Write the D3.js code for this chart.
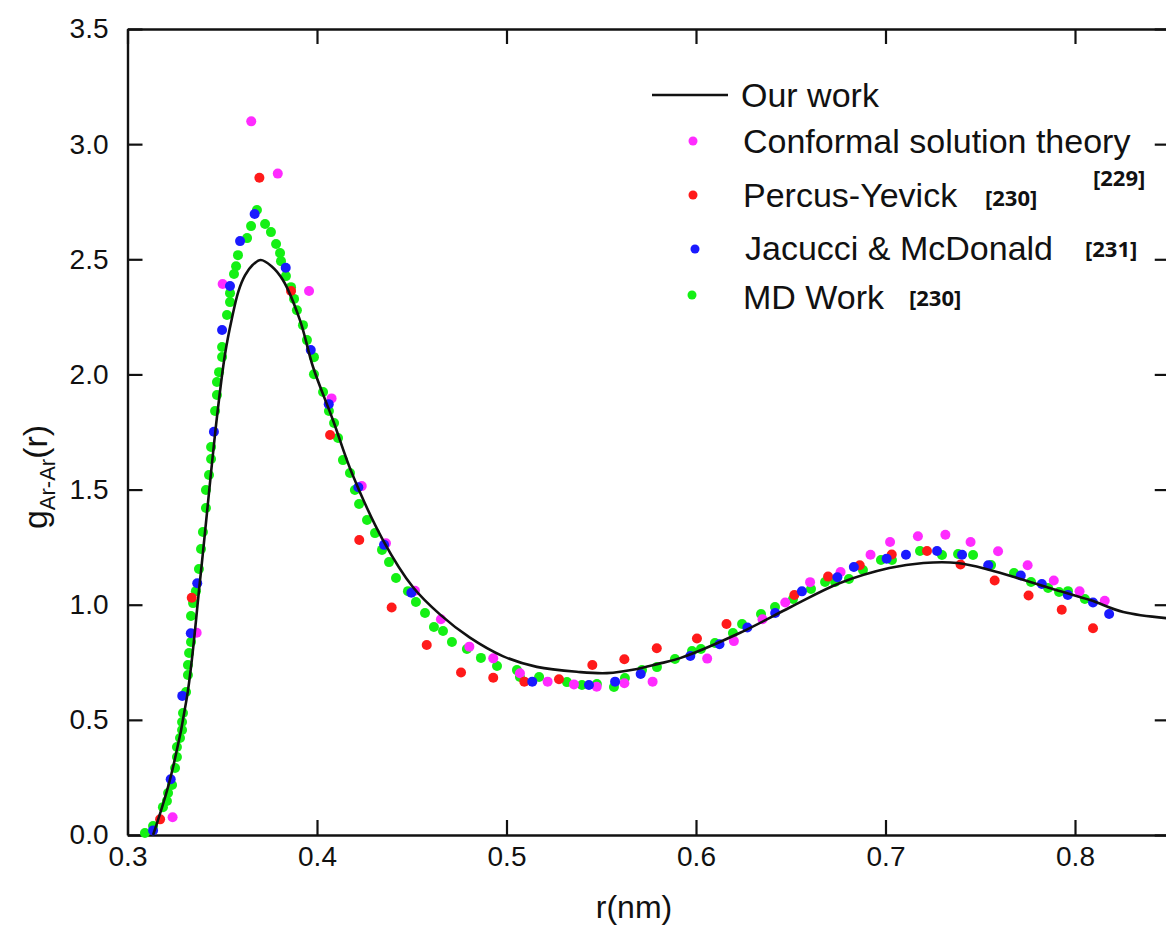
<!DOCTYPE html>
<html>
<head>
<meta charset="utf-8">
<script src="https://cdn.jsdelivr.net/npm/d3@7"></script>
<style>
  html, body { margin: 0; padding: 0; background: #fff; overflow: hidden; }
  svg { display: block; }
  text { font-family: "Liberation Sans", Arial, sans-serif; fill: #111; }
  .ref { font-family: "Open Sans", "Noto Sans", sans-serif; font-weight: 700; }
</style>
</head>
<body>
<svg id="chart" width="1166" height="927"></svg>
<script>
// ---------- data (r in nm, g(r)) ----------
const xTicks = [0.3, 0.4, 0.5, 0.6, 0.7, 0.8];
const yTicks = [0.0, 0.5, 1.0, 1.5, 2.0, 2.5, 3.0, 3.5];

const ourWork = [
  [0.3135,0],[0.3224,0.24],[0.3314,0.6],[0.3383,1.107],[0.3472,1.815],[0.3515,2.09],[0.355,2.24],
  [0.3585,2.36],[0.362,2.43],[0.366,2.475],[0.3703,2.497],[0.376,2.47],[0.382,2.41],[0.391,2.236],[0.398,2.03],
  [0.4085,1.80],[0.4185,1.57],[0.4348,1.281],[0.4506,1.077],[0.465,0.957],[0.4807,0.857],
  [0.498,0.777],[0.516,0.730],[0.538,0.708],[0.553,0.703],[0.569,0.721],[0.5795,0.742],
  [0.5916,0.768],[0.623,0.877],[0.65,0.99],[0.676,1.094],[0.702,1.159],[0.72,1.181],
  [0.738,1.181],[0.755,1.151],[0.773,1.107],[0.79,1.064],[0.808,1.02],[0.8255,0.968],[0.85,0.94]
];

const conformal = [
  [0.3238,0.077],[0.3365,0.878],[0.3502,2.393],[0.3653,3.099],[0.3793,2.872],[0.3958,2.362],
  [0.4077,1.896],[0.4236,1.515],[0.4364,1.267],[0.4517,1.061],[0.4654,0.937],[0.4804,0.818],
  [0.493,0.767],[0.5071,0.702],[0.5217,0.666],[0.5356,0.654],[0.5476,0.644],[0.5622,0.659],
  [0.5771,0.666],[0.6059,0.766],[0.62,0.842],[0.6351,0.937],[0.6471,1.01],[0.6602,1.098],
  [0.6763,1.142],[0.6921,1.217],[0.7024,1.272],[0.7171,1.297],[0.7316,1.304],[0.7449,1.272],
  [0.7594,1.232],[0.775,1.171],[0.7888,1.105],[0.8024,1.058],[0.8157,1.017]
];

const percusYevick = [
  [0.3172,0.068],[0.3339,1.03],[0.3696,2.854],[0.3863,2.362],[0.4069,1.737],[0.4223,1.281],
  [0.4394,0.988],[0.4579,0.825],[0.476,0.706],[0.493,0.683],[0.5094,0.666],[0.5277,0.676],
  [0.5453,0.738],[0.5622,0.763],[0.5793,0.811],[0.6005,0.853],[0.6161,0.916],[0.6519,1.042],
  [0.6697,1.122],[0.6864,1.171],[0.7033,1.218],[0.7219,1.233],[0.7396,1.175],[0.7576,1.105],
  [0.7755,1.04],[0.793,0.978],[0.8095,0.898]
];

const jacucci = [
  [0.3135,0.02],[0.3228,0.242],[0.3289,0.604],[0.3334,0.876],[0.3368,1.093],[0.3456,1.751],
  [0.3499,2.193],[0.3541,2.384],[0.3594,2.579],[0.3671,2.697],[0.3835,2.463],[0.3967,2.106],
  [0.4062,1.871],[0.4218,1.51],[0.4354,1.26],[0.4498,1.052],[0.5136,0.666],[0.5435,0.651],
  [0.5573,0.666],[0.5708,0.699],[0.597,0.777],[0.6124,0.828],[0.6271,0.901],[0.6418,0.964],
  [0.6559,1.058],[0.6746,1.119],[0.6833,1.164],[0.7006,1.2],[0.7108,1.217],[0.7272,1.233],
  [0.7404,1.217],[0.7542,1.171],[0.7714,1.127],[0.7825,1.09],[0.7962,1.042],[0.8095,1.01],[0.818,0.96]
];

const mdWork = [
  [0.3092,0.009],[0.3135,0.039],[0.3187,0.121],[0.3208,0.148],[0.3214,0.182],[0.3235,0.217],
  [0.3251,0.291],[0.3261,0.339],[0.3261,0.382],[0.3277,0.421],[0.3288,0.456],[0.3288,0.491],
  [0.3293,0.530],[0.3309,0.621],[0.3319,0.695],[0.3319,0.738],[0.3325,0.790],[0.3335,0.838],
  [0.3335,0.951],[0.3346,1.007],[0.3361,1.059],[0.3377,1.155],[0.3388,1.242],[0.3398,1.316],
  [0.3414,1.420],[0.3414,1.498],[0.3430,1.563],[0.3441,1.633],[0.3441,1.685],[0.3462,1.841],
  [0.3472,1.911],[0.3472,1.967],[0.3483,2.010],[0.3499,2.076],[0.3499,2.119],[0.3525,2.258],
  [0.3541,2.314],[0.3541,2.353],[0.3562,2.436],[0.3573,2.470],[0.3583,2.518],[0.3631,2.592],
  [0.3652,2.644],[0.3683,2.714],[0.3726,2.653],[0.3757,2.618],[0.3784,2.566],[0.3805,2.527],
  [0.3810,2.492],[0.3836,2.427],[0.3863,2.379],[0.3879,2.328],[0.3894,2.279],[0.3926,2.214],
  [0.3947,2.149],[0.3984,2.075],[0.3984,2.001],[0.4032,1.924],[0.4063,1.841],[0.4090,1.789],
  [0.4111,1.724],[0.4137,1.628],[0.4174,1.572],[0.4200,1.498],[0.4222,1.437],[0.4264,1.368],
  [0.4306,1.311],[0.4343,1.238],[0.4380,1.185],[0.4417,1.116],[0.4480,1.059],[0.4522,1.012],
  [0.4570,0.964],[0.4617,0.903],[0.4665,0.886],[0.4712,0.838],[0.4791,0.808],[0.4865,0.769],
  [0.4950,0.734],[0.5055,0.716],[0.5071,0.686],[0.5172,0.686],[0.5319,0.664],[0.5398,0.651],
  [0.5477,0.656],[0.5567,0.643],[0.5625,0.682],[0.5715,0.716],[0.5794,0.729],[0.5889,0.764],
  [0.5979,0.799],[0.6026,0.808],[0.6100,0.834],[0.6195,0.877],[0.6243,0.916],[0.6343,0.960],
  [0.6417,0.990],[0.6512,1.025],[0.6607,1.068],[0.6681,1.099],[0.6734,1.099],[0.6807,1.112],
  [0.6881,1.151],[0.6976,1.194],[0.7034,1.194],[0.7182,1.233],[0.7298,1.216],[0.7383,1.220],
  [0.7462,1.216],[0.7557,1.172],[0.7678,1.138],[0.7768,1.099],[0.7858,1.073],[0.7916,1.055],
  [0.7963,1.059],[0.8052,1.025]
];

const seriesNames = ["Conformal solution theory", "Percus-Yevick", "Jacucci & McDonald", "MD Work"];
const seriesRefs = ["[229]", "[230]", "[231]", "[230]"];
const seriesColors = ["#ff2bff", "#ff1a1a", "#1a1aff", "#14f014"];

// ---------- layout ----------
const svg = d3.select("#chart");
const x = d3.scaleLinear().domain([0.3, 0.85]).range([127.5, 1169.75]);
const y = d3.scaleLinear().domain([0, 3.5]).range([835, 29]);
const tickLen = 15;

const axisStyle = g => {
  g.selectAll(".domain").attr("stroke", "#111").attr("stroke-width", 2.4);
  g.selectAll(".tick line").attr("stroke", "#111").attr("stroke-width", 2.2);
  g.selectAll(".tick text").style("font-family", "'Liberation Sans', Arial, sans-serif")
    .style("font-size", "28px").attr("fill", "#111");
};

svg.append("g").attr("transform", `translate(0,${y(0)})`)
  .call(d3.axisBottom(x).tickValues(xTicks).tickFormat(d3.format(".1f"))
        .tickSizeInner(-tickLen).tickSizeOuter(0).tickPadding(11))
  .call(axisStyle);

svg.append("g").attr("transform", `translate(0,${y(3.5)})`)
  .call(d3.axisTop(x).tickValues(xTicks).tickFormat("").tickSizeInner(-tickLen).tickSizeOuter(0))
  .call(axisStyle);

svg.append("g").attr("transform", `translate(${x(0.3)},0)`)
  .call(d3.axisLeft(y).tickValues(yTicks).tickFormat(d3.format(".1f"))
        .tickSizeInner(-tickLen).tickSizeOuter(0).tickPadding(19))
  .call(axisStyle);

svg.append("g").attr("transform", `translate(${x(0.85)},0)`)
  .call(d3.axisRight(y).tickValues(yTicks).tickFormat("").tickSizeInner(-tickLen).tickSizeOuter(0))
  .call(axisStyle);

// axis titles
svg.append("text").attr("x", 634).attr("y", 918).attr("text-anchor", "middle")
  .style("font-size", "32px").text("r(nm)");

const yl = svg.append("text").attr("transform", "translate(47,477) rotate(-90)")
  .attr("text-anchor", "middle").style("font-size", "34px");
yl.append("tspan").text("g");
yl.append("tspan").attr("dy", 8).style("font-size", "22px").text("Ar-Ar");
yl.append("tspan").attr("dy", -8).text("(r)");

// scatter series (draw order: green, magenta, red, blue)
const dotR = 5;
const drawDots = (data, color) => {
  svg.append("g").selectAll("circle").data(data).join("circle")
    .attr("cx", d => x(d[0])).attr("cy", d => y(d[1])).attr("r", dotR).attr("fill", color);
};
drawDots(mdWork, seriesColors[3]);
drawDots(conformal, seriesColors[0]);
drawDots(percusYevick, seriesColors[1]);
drawDots(jacucci, seriesColors[2]);

// our work line
svg.append("path").datum(ourWork)
  .attr("d", d3.line().x(d => x(d[0])).y(d => y(d[1])).curve(d3.curveCatmullRom.alpha(0.5)))
  .attr("fill", "none").attr("stroke", "#111").attr("stroke-width", 2.6);

// legend
const lg = svg.append("g");
lg.append("line").attr("x1", 652).attr("x2", 728).attr("y1", 95).attr("y2", 95)
  .attr("stroke", "#111").attr("stroke-width", 2.4);
lg.append("text").attr("x", 741).attr("y", 107).style("font-size", "34px").text("Our work");

const legY = [141, 195, 249, 295];
const legTextY = [153, 207, 260, 309];
const legDotX = [693, 693, 695, 692];
const refPos = [[1093, 186], [985, 206], [1085, 257], [909, 306]];
seriesNames.forEach((name, i) => {
  lg.append("circle").attr("cx", legDotX[i]).attr("cy", legY[i]).attr("r", 4.5).attr("fill", seriesColors[i]);
  lg.append("text").attr("x", i === 2 ? 745 : 743).attr("y", legTextY[i])
    .style("font-size", "34px").text(name);
  lg.append("text").attr("class", "ref").attr("x", refPos[i][0]).attr("y", refPos[i][1])
    .style("font-size", "22px").text(seriesRefs[i]);
});
</script>
</body>
</html>
